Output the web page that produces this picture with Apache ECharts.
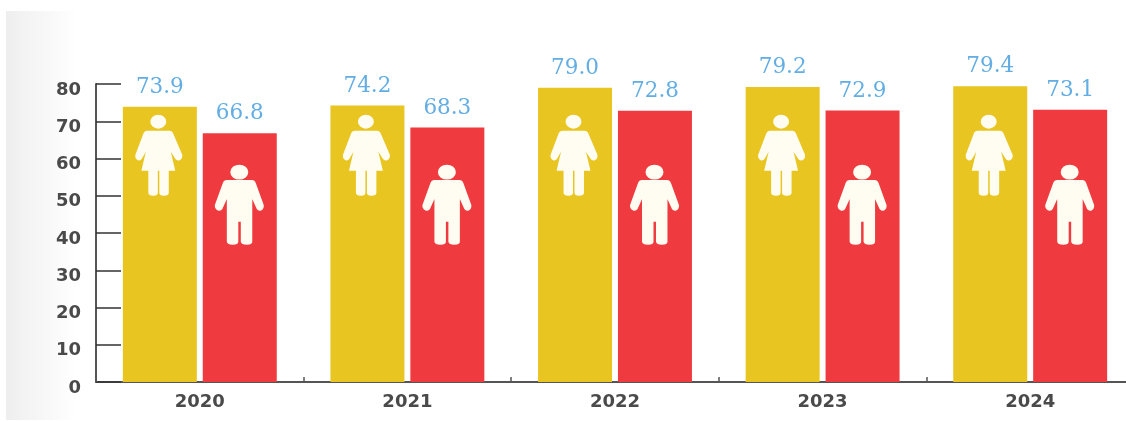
<!DOCTYPE html>
<html>
<head>
<meta charset="utf-8">
<style>
html,body{margin:0;padding:0;background:#fff;overflow:hidden;width:1126px;height:421px}
#frame{width:1126px;height:421px;overflow:hidden;filter:blur(0.45px)}
#chart{width:1140px;height:421px}
</style>
<script src="https://cdn.jsdelivr.net/npm/echarts@6/dist/echarts.min.js"></script>
</head>
<body>
<div id="frame"><div id="chart"></div></div>
<script>
const categories = ['2020', '2021', '2022', '2023', '2024'];
const femaleValues = [73.9, 74.2, 79.0, 79.2, 79.4];
const maleValues = [66.8, 68.3, 72.8, 72.9, 73.1];
const yTicks = { min: 0, max: 80, interval: 10 };

const womanPath = 'path://M15,7a8,7 0 1,0 16,0a8,7 0 1,0 -16,0Z M12,16L34,16Q37,16 38,19L47,40Q47.5,44 44.5,45.5Q41.5,46.5 40,44L35.5,37L40,56L33.5,56L33.5,78Q33.5,81 28.5,81Q24,81 24,78L24,56L22.5,56L22.5,78Q22.5,81 18,81Q13,81 13,78L13,56L6,56L10.5,37L6.5,44Q5,46.5 2.5,45.5Q-0.5,44 0,40L8,19Q9,16 12,16Z';
const manPath = 'path://M15.5,7a9,7.5 0 1,0 18,0a9,7.5 0 1,0 -18,0Z M12,15L37,15Q40,15 41,18L49,40Q49.5,44 46.5,45.5Q43.5,46.5 42,44L37.5,34L37.5,77Q37.5,80 32,80Q26.5,80 26,77L26,57L23.5,57L23.5,77Q23.5,80 18,80Q12.5,80 12,77L12,34L7.5,44Q6,46.5 3,45.5Q-0.5,44 0,40L8,18Q9,15 12,15Z';
const womanIconLevel = 60.9;
const manIconLevel = 47.6;

const labelStyle = {
  show: true,
  position: 'top',
  distance: 8.5,
  color: '#62ade3',
  fontFamily: '"DejaVu Serif"',
  fontSize: 21.5
};
const axisColor = '#555';

const chart = echarts.init(document.getElementById('chart'), null, { renderer: 'canvas' });
chart.setOption({
  animation: false,
  backgroundColor: '#fff',
  graphic: [{
    type: 'rect',
    z: -10,
    silent: true,
    shape: { x: 6, y: 11, width: 70, height: 409 },
    style: {
      fill: new echarts.graphic.LinearGradient(0, 0, 1, 0, [
        { offset: 0, color: '#eeeeee' },
        { offset: 1, color: '#ffffff' }
      ])
    }
  }],
  grid: { left: 96, top: 84, width: 1038, height: 298, containLabel: false },
  xAxis: {
    type: 'category',
    data: categories,
    axisLine: { lineStyle: { color: axisColor, width: 2 } },
    axisTick: { show: true, inside: true, length: 5, lineStyle: { color: axisColor, width: 1.5 } },
    axisLabel: { margin: 11, color: '#4a4a4a', fontFamily: '"DejaVu Sans"', fontWeight: 'bold', fontSize: 18 }
  },
  yAxis: {
    type: 'value',
    min: yTicks.min,
    max: yTicks.max,
    interval: yTicks.interval,
    splitLine: { show: false },
    axisLine: { show: true, lineStyle: { color: axisColor, width: 2 } },
    axisTick: { show: true, inside: true, length: 25, lineStyle: { color: '#333', width: 1.5 } },
    axisLabel: { margin: 15, color: '#4a4a4a', fontFamily: '"DejaVu Sans"', fontWeight: 'bold', fontSize: 18, verticalAlign: 'top', lineHeight: 12 }
  },
  series: [
    {
      name: 'Female', type: 'bar', data: femaleValues, barWidth: 74, barGap: '8%',
      itemStyle: { color: '#e8c520' },
      label: Object.assign({ formatter: p => p.value.toFixed(1) }, labelStyle)
    },
    {
      name: 'Male', type: 'bar', data: maleValues, barWidth: 74,
      itemStyle: { color: '#ef3b3f' },
      label: Object.assign({ formatter: p => p.value.toFixed(1) }, labelStyle)
    },
    {
      name: 'FemaleIcon', type: 'scatter', z: 5, silent: true,
      data: categories.map(c => [c, womanIconLevel]),
      symbol: womanPath, symbolSize: [47, 81], symbolOffset: [-41, 0],
      itemStyle: { color: '#fffdf2', opacity: 1 }
    },
    {
      name: 'MaleIcon', type: 'scatter', z: 5, silent: true,
      data: categories.map(c => [c, manIconLevel]),
      symbol: manPath, symbolSize: [49, 80], symbolOffset: [39.5, 0],
      itemStyle: { color: '#fffdf2', opacity: 1 }
    }
  ]
});
</script>
</body>
</html>
